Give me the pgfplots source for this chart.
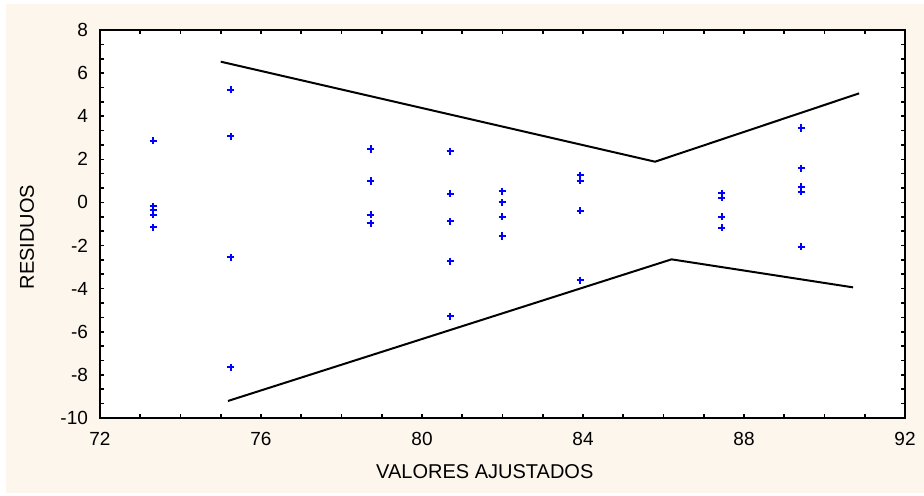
\documentclass[border=0pt]{standalone}
\usepackage{pgfplots}
\pgfplotsset{compat=1.18}
\usepackage{fontspec}
\setmainfont{Liberation Sans}
\definecolor{cream}{RGB}{253,246,237}
\begin{document}
\begin{tikzpicture}
\fill[cream] (0,0) rectangle (462pt,248pt);
\fill[white] (0,246pt) rectangle (462pt,248pt);
\fill[white] (0,0) rectangle (3pt,248pt);
\fill[white] (0,0) rectangle (462pt,1.5pt);
\begin{axis}[
  at={(50pt,39pt)}, anchor=south west,
  scale only axis, width=402.5pt, height=194pt,
  xmin=72, xmax=92, ymin=-10, ymax=8,
  xtick={72,76,...,92}, ytick={-10,-8,...,8},
  minor x tick num=3, minor y tick num=2,
  tick align=inside,
  major tick length=2pt, minor tick length=2pt,
  tick style={black, line width=0.8pt},
  axis line style={line width=1pt},
  axis background/.style={fill=white},
  xticklabel pos=lower, yticklabel pos=left,
  /pgf/number format/assume math mode=true,
  ticklabel style={font=\fontsize{9.5}{11}\selectfont},
  xticklabel style={yshift=-3.5pt},
  yticklabel style={xshift=-2.5pt},
  xlabel={VALORES AJUSTADOS}, ylabel={RESIDUOS},
  label style={font=\fontsize{10}{12}\selectfont},
  xlabel style={at={(axis description cs:0.478,-0.139)}, anchor=center},
  ylabel style={at={(axis description cs:-0.0907,0.466)}, anchor=center},
  clip=false,
]
\addplot[only marks, mark=+, blue, mark size=1.8pt, line width=1pt] coordinates {
(73.32,2.86) (73.32,-0.17) (73.32,-0.37) (73.32,-0.57) (73.32,-1.16)
(75.25,5.23) (75.25,3.07) (75.25,-2.55) (75.25,-7.65)
(78.73,2.48) (78.73,0.99) (78.73,-0.57) (78.73,-0.97)
(80.70,2.37) (80.70,0.40) (80.70,-0.88) (80.70,-2.73) (80.70,-5.28)
(81.99,0.51) (81.99,0.00) (81.99,-0.66) (81.99,-1.56)
(83.93,1.26) (83.93,1.01) (83.93,-0.38) (83.93,-3.61)
(87.45,0.42) (87.45,0.22) (87.45,-0.66) (87.45,-1.17)
(89.42,3.45) (89.42,1.58) (89.42,0.73) (89.42,0.50) (89.42,-2.05)
};
\addplot[black, line width=1pt] coordinates {(75.0,6.53) (85.79,1.89) (90.86,5.06)};
\addplot[black, line width=1pt] coordinates {(75.18,-9.21) (86.2,-2.64) (90.71,-3.94)};
\end{axis}
\end{tikzpicture}
\end{document}
